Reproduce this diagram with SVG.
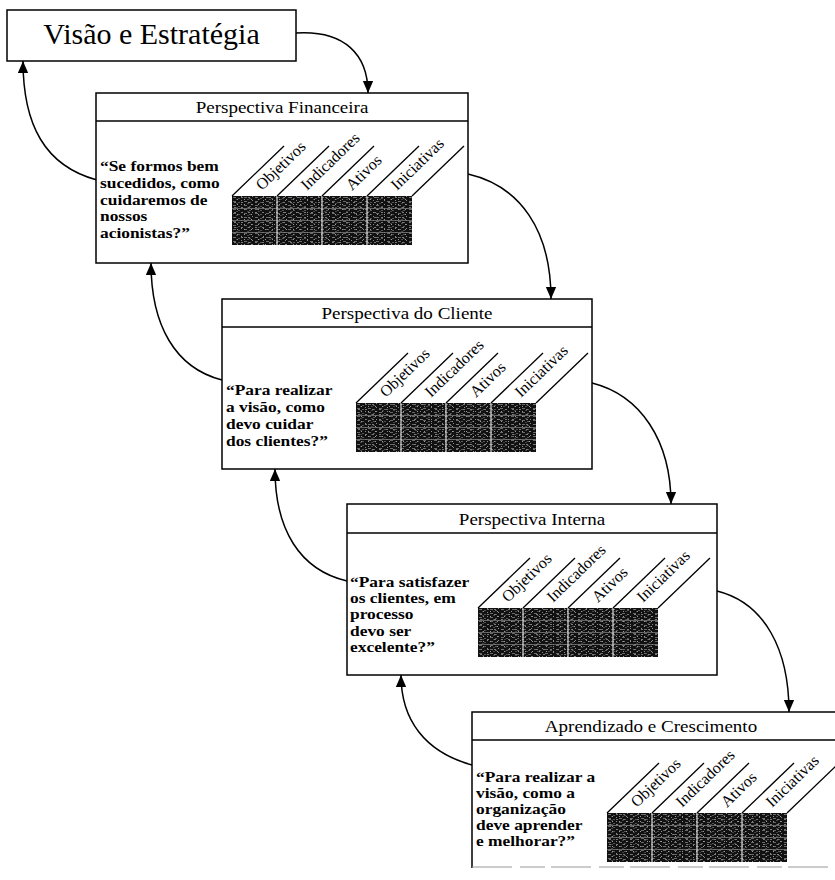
<svg xmlns="http://www.w3.org/2000/svg" xmlns:xlink="http://www.w3.org/1999/xlink" width="835" height="880" viewBox="0 0 835 880">
<style>
.box{fill:#fff;stroke:#000;stroke-width:1.5}
.sep{stroke:#000;stroke-width:1.5}
.title{font-family:"Liberation Serif","Times New Roman",serif;font-size:17px;fill:#000}
.quote{font-family:"Liberation Serif","Times New Roman",serif;font-size:15px;font-weight:bold;fill:#000}
.lbl{font-family:"Liberation Serif","Times New Roman",serif;font-size:16px;fill:#000}
.slant{stroke:#000;stroke-width:1.3;fill:none}
.conn{fill:none;stroke:#000;stroke-width:1.5}
</style>
<defs>
<marker id="ah" markerWidth="12" markerHeight="14" refX="14" refY="6" orient="auto" markerUnits="userSpaceOnUse" viewBox="0 0 14 12">
<path d="M0,0 L14,6 L0,12 z" fill="#000"/>
</marker>
<pattern id="tex" width="11" height="4" patternUnits="userSpaceOnUse">
<rect width="11" height="4" fill="#111"/>
<rect x="1" y="1" width="3" height="1" fill="#6a6a6a"/>
<rect x="6" y="2" width="2" height="1" fill="#555"/>
<rect x="9" y="0" width="1" height="1" fill="#888"/>
<rect x="4" y="3" width="2" height="1" fill="#444"/>
</pattern>
<pattern id="tex2" width="7" height="5" patternUnits="userSpaceOnUse">
<rect x="2" y="1" width="2" height="1" fill="#7a7a7a"/>
<rect x="5" y="3" width="1" height="1" fill="#999"/>
</pattern>
<g id="table">
<rect x="0" y="0" width="180" height="49" fill="url(#tex)"/>
<rect x="0" y="0" width="180" height="49" fill="url(#tex2)"/>
<g stroke="#777" stroke-width="0.8">
<line x1="0" y1="12.5" x2="180" y2="12.5"/>
<line x1="0" y1="24.5" x2="180" y2="24.5"/>
<line x1="0" y1="36.5" x2="180" y2="36.5"/>
</g>
<g stroke="#ddd" stroke-width="1.2">
<line x1="45" y1="0" x2="45" y2="49"/>
<line x1="90" y1="0" x2="90" y2="49"/>
<line x1="135" y1="0" x2="135" y2="49"/>
</g>
<g class="slant">
<line x1="0" y1="0" x2="52" y2="-50"/>
<line x1="45" y1="0" x2="97" y2="-50"/>
<line x1="90" y1="0" x2="142" y2="-50"/>
<line x1="135" y1="0" x2="187" y2="-50"/>
<line x1="180" y1="0" x2="232" y2="-50"/>
</g>
<text class="lbl" transform="translate(30,-5) rotate(-44)">Objetivos</text>
<text class="lbl" transform="translate(75,-5) rotate(-44)">Indicadores</text>
<text class="lbl" transform="translate(120,-5) rotate(-44)">Ativos</text>
<text class="lbl" transform="translate(165,-5) rotate(-44)">Iniciativas</text>
</g>
</defs>
<rect width="835" height="880" fill="#fff"/>

<g id="connectors">
<path class="conn" d="M296,33 C345,30 368,55 368,93" marker-end="url(#ah)"/>
<path class="conn" d="M97,180 C45,166 23,125 23,61" marker-end="url(#ah)"/>
<path class="conn" d="M468,174 C520,186 551,230 551,299" marker-end="url(#ah)"/>
<path class="conn" d="M222,380 C175,368 151,325 151,263" marker-end="url(#ah)"/>
<path class="conn" d="M592,383 C640,395 671,440 671,504" marker-end="url(#ah)"/>
<path class="conn" d="M347,581 C300,570 275,530 275,469" marker-end="url(#ah)"/>
<path class="conn" d="M717,591 C765,603 789,650 789,712" marker-end="url(#ah)"/>
<path class="conn" d="M472,765 C425,752 401,720 401,675" marker-end="url(#ah)"/>
</g>

<g id="vision">
<rect class="box" x="7" y="10" width="289" height="51"/>
<text x="151.5" y="44" text-anchor="middle" style="font-family:'Liberation Serif','Times New Roman',serif;font-size:30px">Visão e Estratégia</text>
</g>

<g id="financial">
<rect class="box" x="96" y="93" width="372" height="170"/>
<line class="sep" x1="96" y1="121" x2="468" y2="121"/>
<text class="title" text-anchor="middle" transform="translate(282,113) scale(1.12,1)">Perspectiva Financeira</text>
<g transform="translate(100,0) scale(1.16,1)">
<text class="quote" x="0" y="171">“Se formos bem</text>
<text class="quote" x="0" y="188">sucedidos, como</text>
<text class="quote" x="0" y="205">cuidaremos de</text>
<text class="quote" x="0" y="221">nossos</text>
<text class="quote" x="0" y="238">acionistas?”</text>
</g>
<use xlink:href="#table" href="#table" x="232" y="196"/>
</g>

<g id="client">
<rect class="box" x="222" y="299" width="370" height="170"/>
<line class="sep" x1="222" y1="327" x2="592" y2="327"/>
<text class="title" text-anchor="middle" transform="translate(407,319) scale(1.12,1)">Perspectiva do Cliente</text>
<g transform="translate(226,0) scale(1.16,1)">
<text class="quote" x="0" y="395">“Para realizar</text>
<text class="quote" x="0" y="412">a visão, como</text>
<text class="quote" x="0" y="429">devo cuidar</text>
<text class="quote" x="0" y="446">dos clientes?”</text>
</g>
<use xlink:href="#table" href="#table" x="356" y="403"/>
</g>

<g id="internal">
<rect class="box" x="347" y="504" width="370" height="171"/>
<line class="sep" x1="347" y1="533" x2="717" y2="533"/>
<text class="title" text-anchor="middle" transform="translate(532,525) scale(1.12,1)">Perspectiva Interna</text>
<g transform="translate(350,0) scale(1.16,1)">
<text class="quote" x="0" y="587">“Para satisfazer</text>
<text class="quote" x="0" y="603">os clientes, em</text>
<text class="quote" x="0" y="619">processo</text>
<text class="quote" x="0" y="636">devo ser</text>
<text class="quote" x="0" y="652">excelente?”</text>
</g>
<use xlink:href="#table" href="#table" x="478" y="608"/>
</g>

<g id="learning">
<path class="box" d="M845,712 L472,712 L472,868"/>
<line x1="472" y1="867" x2="845" y2="867" stroke="#999" stroke-width="1.2" stroke-dasharray="40 8 25 6"/>
<line class="sep" x1="472" y1="740" x2="845" y2="740"/>
<text class="title" text-anchor="middle" transform="translate(651,732) scale(1.12,1)">Aprendizado e Crescimento</text>
<g transform="translate(476,0) scale(1.16,1)">
<text class="quote" x="0" y="782">“Para realizar a</text>
<text class="quote" x="0" y="798">visão, como a</text>
<text class="quote" x="0" y="814">organização</text>
<text class="quote" x="0" y="830">deve aprender</text>
<text class="quote" x="0" y="846">e melhorar?”</text>
</g>
<use xlink:href="#table" href="#table" x="607" y="813"/>
</g>
</svg>
